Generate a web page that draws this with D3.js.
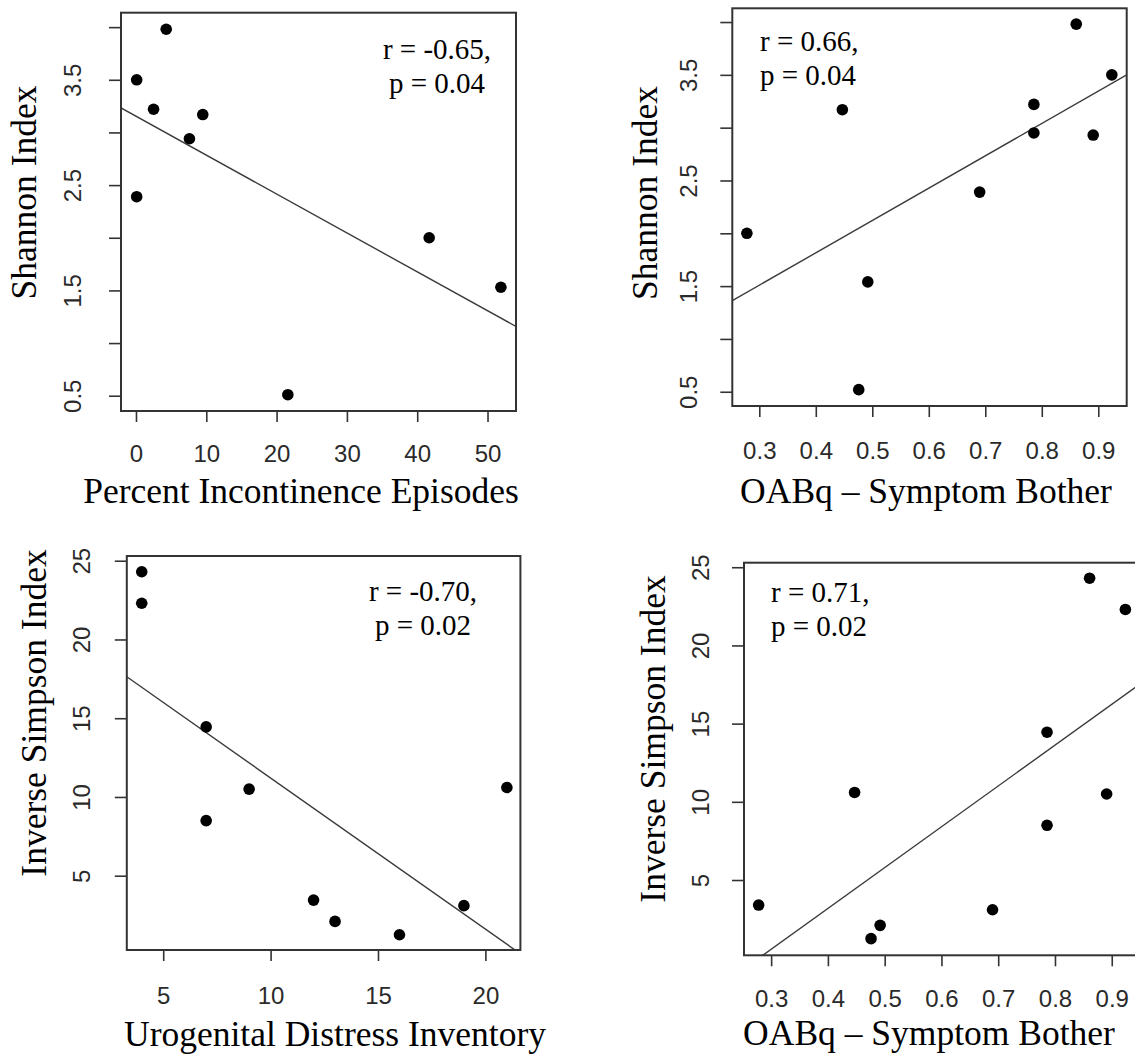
<!DOCTYPE html>
<html>
<head>
<meta charset="utf-8">
<script src="https://cdn.jsdelivr.net/npm/d3@7"></script>
<style>
  html, body { margin: 0; padding: 0; background: #fff; overflow: hidden; }
  svg { display: block; }
</style>
</head>
<body>
<script>
// ---------------- DATA ----------------
const percentIncontinence   = [0.1, 0.1, 4.3, 2.5, 9.5, 7.6, 21.6, 41.7, 51.9];
const shannonByIncontinence = [3.50, 2.39, 3.98, 3.22, 3.17, 2.94, 0.51, 2.00, 1.53];

const oabqBother            = [0.278, 0.447, 0.476, 0.492, 0.690, 0.786, 0.786, 0.861, 0.891, 0.924];
const shannonByOabq         = [2.00, 3.17, 0.52, 1.54, 2.39, 3.22, 2.95, 3.98, 2.93, 3.50];

const udiScore              = [4, 4, 7, 7, 9, 12, 13, 16, 19, 21];
const invSimpsonByUdi       = [24.3, 22.3, 14.45, 8.5, 10.5, 3.45, 2.1, 1.25, 3.1, 10.6];

const invSimpsonByOabq      = [3.4, 10.6, 1.25, 2.1, 3.1, 14.45, 8.5, 24.3, 10.5, 22.3];

const xTicksPercent   = [0, 10, 20, 30, 40, 50];
const xTicksOabq      = [0.3, 0.4, 0.5, 0.6, 0.7, 0.8, 0.9];
const xTicksUdi       = [5, 10, 15, 20];
const yTicksShannon   = [0.5, 1.0, 1.5, 2.0, 2.5, 3.0, 3.5, 4.0];
const yLabelsShannon  = [0.5, 1.5, 2.5, 3.5];
const yTicksInvSimp   = [5, 10, 15, 20, 25];
const yLabelsInvSimp  = [5, 10, 15, 20, 25];

const stats1 = ["r = -0.65,", "p = 0.04"];
const stats2 = ["r = 0.66,", "p = 0.04"];
const stats3 = ["r = -0.70,", "p = 0.02"];
const stats4 = ["r = 0.71,", "p = 0.02"];

// ---------------- LAYOUT ----------------
const W = 1135, H = 1059;
const svg = d3.select("body").append("svg").attr("width", W).attr("height", H);

const panels = [
  { id: 1, xs: percentIncontinence, ys: shannonByIncontinence,
    box: {x0: 121, x1: 516, y0: 12.7, y1: 411},
    xDom: [-2.13, 54.05], yDom: [0.355, 4.137],
    xTicks: xTicksPercent, xFmt: d3.format("d"),
    yTicks: yTicksShannon, yLabels: yLabelsShannon, yFmt: d3.format(".1f"),
    xLabOff: 42, yLabOff: 49,
    xTitle: "Percent Incontinence Episodes", xTitlePos: [301, 503],
    yTitle: "Shannon Index", yTitlePos: [24, 192.5],
    stats: stats1, statsPos: [437, 59], statsAnchor: "middle" },
  { id: 2, xs: oabqBother, ys: shannonByOabq,
    box: {x0: 732.3, x1: 1126.7, y0: 8.3, y1: 406},
    xDom: [0.2522, 0.9503], yDom: [0.365, 4.13],
    xTicks: xTicksOabq, xFmt: d3.format(".1f"),
    yTicks: yTicksShannon, yLabels: yLabelsShannon, yFmt: d3.format(".1f"),
    xLabOff: 44, yLabOff: 44,
    xTitle: "OABq \u2013 Symptom Bother", xTitlePos: [926, 503],
    yTitle: "Shannon Index", yTitlePos: [645, 193],
    stats: stats2, statsPos: [760, 51], statsAnchor: "start" },
  { id: 3, xs: udiScore, ys: invSimpsonByUdi,
    box: {x0: 126.8, x1: 520.4, y0: 556, y1: 950},
    xDom: [3.305, 21.63], yDom: [0.283, 25.3],
    xTicks: xTicksUdi, xFmt: d3.format("d"),
    yTicks: yTicksInvSimp, yLabels: yLabelsInvSimp, yFmt: d3.format("d"),
    xLabOff: 45, yLabOff: 45,
    xTitle: "Urogenital Distress Inventory", xTitlePos: [335, 1046],
    yTitle: "Inverse Simpson Index", yTitlePos: [34, 713],
    stats: stats3, statsPos: [423, 601], statsAnchor: "middle" },
  { id: 4, xs: oabqBother, ys: invSimpsonByOabq,
    box: {x0: 744, x1: 1140.3, y0: 562.7, y1: 955.3},
    xDom: [0.2522, 0.9503], yDom: [0.186, 25.29],
    xTicks: xTicksOabq, xFmt: d3.format(".1f"),
    yTicks: yTicksInvSimp, yLabels: yLabelsInvSimp, yFmt: d3.format("d"),
    xLabOff: 43, yLabOff: 44,
    xTitle: "OABq \u2013 Symptom Bother", xTitlePos: [929, 1045],
    yTitle: "Inverse Simpson Index", yTitlePos: [653, 739],
    stats: stats4, statsPos: [771, 602], statsAnchor: "start" }
];

const serif = "'Liberation Serif', 'Times New Roman', serif";
const sans = "'Liberation Sans', Arial, sans-serif";
const lineGap = 34;
const tickFont = 24;

function fit(xs, ys) {
  const mx = d3.mean(xs), my = d3.mean(ys);
  let sxy = 0, sxx = 0;
  xs.forEach((x, i) => { sxy += (x - mx) * (ys[i] - my); sxx += (x - mx) * (x - mx); });
  const b = sxy / sxx;
  return { a: my - b * mx, b };
}

panels.forEach(p => {
  const x = d3.scaleLinear().domain(p.xDom).range([p.box.x0, p.box.x1]);
  const y = d3.scaleLinear().domain(p.yDom).range([p.box.y1, p.box.y0]);
  const g = svg.append("g");

  const clipId = "clip" + p.id;
  svg.append("defs").append("clipPath").attr("id", clipId)
    .append("rect").attr("x", p.box.x0).attr("y", p.box.y0)
    .attr("width", p.box.x1 - p.box.x0).attr("height", p.box.y1 - p.box.y0);

  // x axis
  const xa = g.append("g").attr("transform", `translate(0,${p.box.y1})`)
    .call(d3.axisBottom(x).tickValues(p.xTicks).tickFormat(p.xFmt).tickSize(11).tickSizeOuter(0));
  xa.select(".domain").remove();
  xa.selectAll(".tick line").attr("stroke", "#333").attr("stroke-width", 1.6);
  xa.selectAll(".tick text").attr("y", p.xLabOff).attr("dy", "0.36em")
    .attr("fill", "#2a2a2a").attr("font-family", sans).attr("font-size", tickFont);

  // y axis
  const ya = g.append("g").attr("transform", `translate(${p.box.x0},0)`)
    .call(d3.axisLeft(y).tickValues(p.yTicks)
      .tickFormat(d => p.yLabels.some(v => Math.abs(v - d) < 1e-9) ? p.yFmt(d) : "")
      .tickSize(12).tickSizeOuter(0));
  ya.select(".domain").remove();
  ya.selectAll(".tick line").attr("stroke", "#333").attr("stroke-width", 1.6);
  ya.selectAll(".tick text")
    .attr("x", null).attr("dy", "0.36em").attr("text-anchor", "middle")
    .attr("transform", `translate(${-p.yLabOff},0) rotate(-90)`)
    .attr("fill", "#2a2a2a").attr("font-family", sans).attr("font-size", tickFont);

  // regression line
  const f = fit(p.xs, p.ys);
  g.append("line")
    .attr("clip-path", `url(#${clipId})`)
    .attr("x1", x(p.xDom[0])).attr("y1", y(f.a + f.b * p.xDom[0]))
    .attr("x2", x(p.xDom[1])).attr("y2", y(f.a + f.b * p.xDom[1]))
    .attr("stroke", "#3a3a3a").attr("stroke-width", 1.4);

  // points
  g.selectAll("circle.pt").data(p.xs.map((v, i) => [v, p.ys[i]])).enter()
    .append("circle").attr("class", "pt")
    .attr("cx", d => x(d[0])).attr("cy", d => y(d[1])).attr("r", 5.8)
    .attr("fill", "#000");

  // box
  g.append("rect")
    .attr("x", p.box.x0).attr("y", p.box.y0)
    .attr("width", p.box.x1 - p.box.x0).attr("height", p.box.y1 - p.box.y0)
    .attr("fill", "none").attr("stroke", "#333").attr("stroke-width", 2);

  // stats text
  p.stats.forEach((t, i) => {
    g.append("text").attr("x", p.statsPos[0]).attr("y", p.statsPos[1] + i * lineGap)
      .attr("text-anchor", p.statsAnchor)
      .attr("font-family", serif).attr("font-size", 29).attr("fill", "#000").text(t);
  });

  // axis titles
  g.append("text").attr("x", p.xTitlePos[0]).attr("y", p.xTitlePos[1])
    .attr("text-anchor", "middle").attr("font-family", serif).attr("font-size", 35.5)
    .attr("fill", "#000").text(p.xTitle);
  g.append("text")
    .attr("transform", `translate(${p.yTitlePos[0]},${p.yTitlePos[1]}) rotate(-90)`)
    .attr("text-anchor", "middle").attr("dy", "0.35em")
    .attr("font-family", serif).attr("font-size", 35.5)
    .attr("fill", "#000").text(p.yTitle);
});
</script>
</body>
</html>
